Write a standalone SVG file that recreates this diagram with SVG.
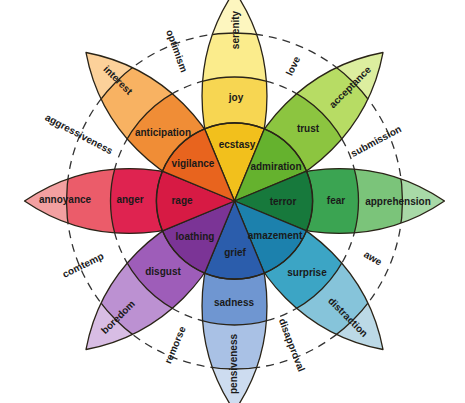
<svg xmlns="http://www.w3.org/2000/svg" xmlns:xlink="http://www.w3.org/1999/xlink" width="465" height="403" viewBox="0 0 465 403">
<style>
.ol{fill:none;stroke:#2a2418;stroke-width:1.3;stroke-linejoin:round}
.bd{stroke:#2a2418;stroke-width:1.3}
.dash{fill:none;stroke:#333;stroke-width:1.3;stroke-dasharray:8 6}
text{font-family:"Liberation Sans",Arial,sans-serif;font-weight:bold;font-size:10px;fill:#1a1a1a;text-anchor:middle;dominant-baseline:central}
</style>
<defs>
<path id="petal" d="M0,0 A186,186 0 0 1 210,0 A186,186 0 0 1 0,0 Z"/>
<clipPath id="pc"><use xlink:href="#petal"/></clipPath>
<path id="wedge" d="M0,0 L72.06,-29.85 A78,78 0 0 1 72.06,29.85 Z"/>
</defs>
<rect width="465" height="403" fill="#fff"/>
<g id="connectors">
<circle class="dash" cx="234.5" cy="201" r="124"/>
<circle class="dash" cx="234.5" cy="201" r="168"/>
</g>
<g id="petal-joy" transform="translate(234.5,201) rotate(-90)">
<g clip-path="url(#pc)"><rect x="0" y="-40" width="215" height="80" fill="#fdf6bf"/><circle r="168" fill="#fbec8c" class="bd"/><circle r="124" fill="#f7d652" class="bd"/></g>
<use xlink:href="#petal" class="ol"/>
</g>
<g id="petal-trust" transform="translate(234.5,201) rotate(-45)">
<g clip-path="url(#pc)"><rect x="0" y="-40" width="215" height="80" fill="#dcee9f"/><circle r="168" fill="#b7dc64" class="bd"/><circle r="124" fill="#8cc540" class="bd"/></g>
<use xlink:href="#petal" class="ol"/>
</g>
<g id="petal-fear" transform="translate(234.5,201)">
<g clip-path="url(#pc)"><rect x="0" y="-40" width="215" height="80" fill="#a8d9a7"/><circle r="168" fill="#7bc47a" class="bd"/><circle r="124" fill="#3ba452" class="bd"/></g>
<use xlink:href="#petal" class="ol"/>
</g>
<g id="petal-surprise" transform="translate(234.5,201) rotate(45)">
<g clip-path="url(#pc)"><rect x="0" y="-40" width="215" height="80" fill="#bcd9e6"/><circle r="168" fill="#86c4da" class="bd"/><circle r="124" fill="#3ca5c5" class="bd"/></g>
<use xlink:href="#petal" class="ol"/>
</g>
<g id="petal-sadness" transform="translate(234.5,201) rotate(90)">
<g clip-path="url(#pc)"><rect x="0" y="-40" width="215" height="80" fill="#cddcf0"/><circle r="168" fill="#a9c1e5" class="bd"/><circle r="124" fill="#6f96d1" class="bd"/></g>
<use xlink:href="#petal" class="ol"/>
</g>
<g id="petal-disgust" transform="translate(234.5,201) rotate(135)">
<g clip-path="url(#pc)"><rect x="0" y="-40" width="215" height="80" fill="#d8bde4"/><circle r="168" fill="#bc91d2" class="bd"/><circle r="124" fill="#9e5db9" class="bd"/></g>
<use xlink:href="#petal" class="ol"/>
</g>
<g id="petal-anger" transform="translate(234.5,201) rotate(180)">
<g clip-path="url(#pc)"><rect x="0" y="-40" width="215" height="80" fill="#f3a0a1"/><circle r="168" fill="#eb5c6a" class="bd"/><circle r="124" fill="#df2350" class="bd"/></g>
<use xlink:href="#petal" class="ol"/>
</g>
<g id="petal-anticipation" transform="translate(234.5,201) rotate(-135)">
<g clip-path="url(#pc)"><rect x="0" y="-40" width="215" height="80" fill="#fcd19a"/><circle r="168" fill="#f8b262" class="bd"/><circle r="124" fill="#f08d36" class="bd"/></g>
<use xlink:href="#petal" class="ol"/>
</g>
<g id="core" transform="translate(234.5,201)">
<use xlink:href="#wedge" transform="rotate(-90)" fill="#f2c01c" class="bd"/>
<use xlink:href="#wedge" transform="rotate(-45)" fill="#65b22e" class="bd"/>
<use xlink:href="#wedge" fill="#17793c" class="bd"/>
<use xlink:href="#wedge" transform="rotate(45)" fill="#1c81ad" class="bd"/>
<use xlink:href="#wedge" transform="rotate(90)" fill="#2b5dac" class="bd"/>
<use xlink:href="#wedge" transform="rotate(135)" fill="#7b3496" class="bd"/>
<use xlink:href="#wedge" transform="rotate(180)" fill="#d71a44" class="bd"/>
<use xlink:href="#wedge" transform="rotate(-135)" fill="#e8641e" class="bd"/>
<circle r="78" fill="none" class="bd"/>
</g>
<g id="labels-inner">
<text x="237" y="144">ecstasy</text>
<text x="193" y="163">vigilance</text>
<text x="276" y="166">admiration</text>
<text x="182" y="200">rage</text>
<text x="283" y="201">terror</text>
<text x="195" y="236">loathing</text>
<text x="275" y="235">amazement</text>
<text x="235" y="252">grief</text>
</g>
<g id="labels-middle">
<text x="236" y="97">joy</text>
<text x="163" y="132">anticipation</text>
<text x="308" y="128">trust</text>
<text x="336" y="200">fear</text>
<text x="307" y="272">surprise</text>
<text x="234" y="302">sadness</text>
<text x="163" y="271">disgust</text>
<text x="130" y="199">anger</text>
</g>
<g id="labels-outer">
<text transform="translate(235,30) rotate(-90)">serenity</text>
<text transform="translate(118,80) rotate(45)">interest</text>
<text transform="translate(350,87) rotate(-45)">acceptance</text>
<text x="398" y="201">apprehension</text>
<text transform="translate(348,317) rotate(45)">distraction</text>
<text transform="translate(233,364) rotate(-90)">pensiveness</text>
<text transform="translate(118,317) rotate(-45)">boredom</text>
<text x="65" y="199">annoyance</text>
</g>
<g id="labels-dyads">
<text transform="translate(177,51) rotate(70)">optimism</text>
<text transform="translate(293,66) rotate(-64)">love</text>
<text transform="translate(376,141) rotate(-28)">submission</text>
<text transform="translate(373,258) rotate(31)">awe</text>
<text transform="translate(292,345) rotate(69)">disapproval</text>
<text transform="translate(175,345) rotate(-67)">remorse</text>
<text transform="translate(83,265) rotate(-26)">comtemp</text>
<text transform="translate(79,134) rotate(28)">aggressiveness</text>
</g>
</svg>
